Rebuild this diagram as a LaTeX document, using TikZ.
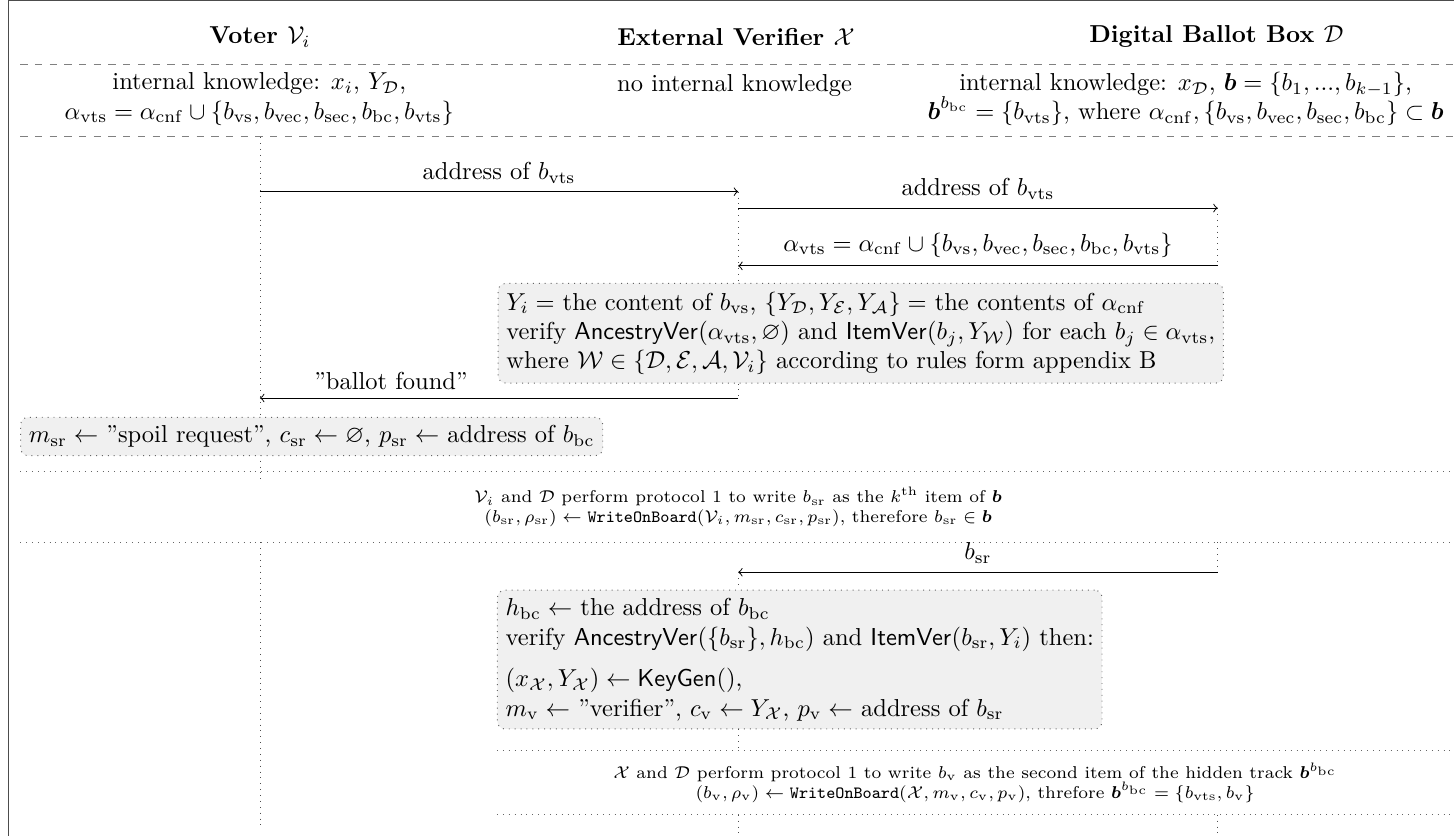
\documentclass[tikz,border=0pt]{standalone}
\usepackage{amsmath,amssymb}
\usetikzlibrary{positioning,calc}

\begin{document}
\begin{tikzpicture}[
    font=\normalsize,
    head/.style={font=\bfseries, inner sep=1pt},
    know/.style={align=center, inner sep=1pt},
    act/.style={draw=black!60, dotted, fill=gray!12, rounded corners=3pt, align=left, anchor=north west},
    band/.style={align=center, font=\scriptsize},
    msg/.style={->, black},
    life/.style={dotted, black!70},
    sep/.style={dashed, gray},
    rule/.style={dotted, black!60}
]
    \useasboundingbox (0,0) rectangle (20.86,-11.99);
    \draw[black!70, line width=0.6pt] (20.86,-0.01) -- (0.12,-0.01) -- (0.12,-11.99);

    % parties and what they know
    \node[head] (tV) at (3.73,-0.53) {Voter $\mathcal{V}_i$};
    \node[head] (tX) at (10.56,-0.53) {External Verifier $\mathcal{X}$};
    \node[head] (tD) at (17.45,-0.53) {Digital Ballot Box $\mathcal{D}$};
    \draw[sep] (0.29,-0.93) -- (20.86,-0.93);
    \node[know] (kV) at (3.72,-1.42) {internal knowledge: $x_i$, $Y_{\mathcal{D}}$,\\
        $\alpha_{\mathrm{vts}} = \alpha_{\mathrm{cnf}} \cup \{b_{\mathrm{vs}}, b_{\mathrm{vec}}, b_{\mathrm{sec}}, b_{\mathrm{bc}}, b_{\mathrm{vts}}\}$};
    \node[know] (kX) at (10.54,-1.22) {no internal knowledge};
    \node[know] (kD) at (17.01,-1.42) {internal knowledge: $x_{\mathcal{D}}$, $\boldsymbol{b} = \{b_1, ..., b_{k-1}\}$,\\
        $\boldsymbol{b}^{b_{\mathrm{bc}}} = \{b_{\mathrm{vts}}\}$, where $\alpha_{\mathrm{cnf}}, \{b_{\mathrm{vs}}, b_{\mathrm{vec}}, b_{\mathrm{sec}}, b_{\mathrm{bc}}\} \subset \boldsymbol{b}$};
    \draw[sep] (0.29,-1.965) -- (20.86,-1.965);

    % lifeline points
    \coordinate (v0) at (3.73,-1.97);
    \coordinate (v1) at (3.73,-2.75);
    \coordinate (x1) at (10.59,-2.75);
    \coordinate (x2) at (10.59,-2.985);
    \coordinate (d2) at (17.47,-2.985);
    \coordinate (d3) at (17.47,-3.815);
    \coordinate (x3) at (10.59,-3.815);
    \coordinate (x4) at (10.59,-5.71);
    \coordinate (v4) at (3.73,-5.71);
    \coordinate (v5) at (3.73,-6.88);

    \draw[life] (v0) -- (v5);
    \draw[life] (d2) -- (d3);
    \draw[msg] (v1) -- node[above] (m1) {address of $b_{\mathrm{vts}}$} (x1);
    \draw[msg] (x2) -- node[above] (m2) {address of $b_{\mathrm{vts}}$} (d2);
    \draw[msg] (d3) -- node[above] (m3) {$\alpha_{\mathrm{vts}} = \alpha_{\mathrm{cnf}} \cup \{b_{\mathrm{vs}}, b_{\mathrm{vec}}, b_{\mathrm{sec}}, b_{\mathrm{bc}}, b_{\mathrm{vts}}\}$} (x3);

    \node[act] (chk) at (7.14,-4.06) {$Y_i =$ the content of $b_{\mathrm{vs}}$, $\{Y_{\mathcal{D}}, Y_{\mathcal{E}}, Y_{\mathcal{A}}\} =$ the contents of $\alpha_{\mathrm{cnf}}$\\
        verify $\mathsf{AncestryVer}(\alpha_{\mathrm{vts}}, \varnothing)$ and $\mathsf{ItemVer}(b_j, Y_{\mathcal{W}})$ for each $b_j \in \alpha_{\mathrm{vts}}$,\\
        where $\mathcal{W} \in \{\mathcal{D}, \mathcal{E}, \mathcal{A}, \mathcal{V}_i\}$ according to rules form appendix B};
    \draw[life] (x1) -- (x1 |- chk.north);
    \draw[life] (x1 |- chk.south) -- (x4);
    \draw[msg] (x4) -- node[above, pos=0.726] (m4) {”ballot found”} (v4);

    \node[act] (spoil) at (0.29,-5.98) {$m_{\mathrm{sr}} \leftarrow$ ”spoil request”, $c_{\mathrm{sr}} \leftarrow \varnothing$, $p_{\mathrm{sr}} \leftarrow$ address of $b_{\mathrm{bc}}$};

    % writing the spoil request
    \draw[rule] (0.29,-6.76) -- (20.86,-6.76);
    \node[band] (p1) at (10.59,-7.27) {$\mathcal{V}_i$ and $\mathcal{D}$ perform protocol 1 to write $b_{\mathrm{sr}}$ as the $k^{\mathrm{th}}$ item of $\boldsymbol{b}$\\
        $(b_{\mathrm{sr}}, \rho_{\mathrm{sr}}) \leftarrow \mathtt{WriteOnBoard}(\mathcal{V}_i, m_{\mathrm{sr}}, c_{\mathrm{sr}}, p_{\mathrm{sr}})$, therefore $b_{\mathrm{sr}} \in \boldsymbol{b}$};
    \draw[rule] (0.29,-7.78) -- (20.86,-7.78);

    \coordinate (v7) at (3.73,-7.78);
    \coordinate (v8) at (3.73,-11.91);
    \coordinate (d5) at (17.47,-7.78);
    \coordinate (d6) at (17.47,-8.21);
    \coordinate (x6) at (10.59,-8.21);
    \coordinate (x7) at (10.59,-10.76);

    \draw[life] (v7) -- (v8);
    \draw[life] (d5) -- (d6);
    \draw[msg] (d6) -- node[above] (m5) {$b_{\mathrm{sr}}$} (x6);

    \node[act] (keys) at (7.13,-8.46) {$h_{\mathrm{bc}} \leftarrow$ the address of $b_{\mathrm{bc}}$\\
        verify $\mathsf{AncestryVer}(\{b_{\mathrm{sr}}\}, h_{\mathrm{bc}})$ and $\mathsf{ItemVer}(b_{\mathrm{sr}}, Y_i)$ then:\\[5pt]
        $(x_{\mathcal{X}}, Y_{\mathcal{X}}) \leftarrow \mathsf{KeyGen}()$,\\
        $m_{\mathrm{v}} \leftarrow$ ”verifier”, $c_{\mathrm{v}} \leftarrow Y_{\mathcal{X}}$, $p_{\mathrm{v}} \leftarrow$ address of $b_{\mathrm{sr}}$};
    \draw[life] (x6) -- (x6 |- keys.north);
    \draw[life] (x6 |- keys.south) -- (x7);

    % writing the verifier item
    \draw[rule] (7.13,-10.76) -- (20.86,-10.76);
    \node[band] (p2) at (13.99,-11.225) {$\mathcal{X}$ and $\mathcal{D}$ perform protocol 1 to write $b_{\mathrm{v}}$ as the second item of the hidden track $\boldsymbol{b}^{b_{\mathrm{bc}}}$\\
        $(b_{\mathrm{v}}, \rho_{\mathrm{v}}) \leftarrow \mathtt{WriteOnBoard}(\mathcal{X}, m_{\mathrm{v}}, c_{\mathrm{v}}, p_{\mathrm{v}})$, threfore $\boldsymbol{b}^{b_{\mathrm{bc}}} = \{b_{\mathrm{vts}}, b_{\mathrm{v}}\}$};
    \draw[rule] (7.13,-11.69) -- (20.86,-11.69);

    \coordinate (x8) at (10.59,-11.69);
    \coordinate (x9) at (10.59,-11.99);
    \coordinate (d8) at (17.47,-11.69);
    \coordinate (d9) at (17.47,-11.99);
    \draw[life] (x8) -- (x9);
    \draw[life] (d8) -- (d9);
\end{tikzpicture}
\end{document}
